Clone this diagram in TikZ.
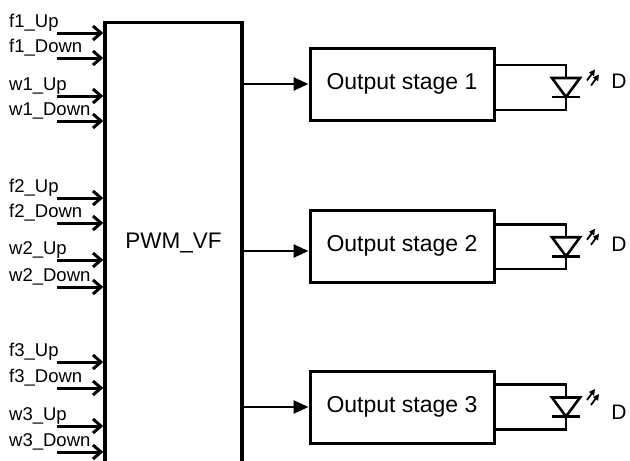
\documentclass[tikz,border=0pt]{standalone}
\usepackage{fontspec}
\setmainfont{Liberation Sans}
\usetikzlibrary{arrows.meta,calc}

\begin{document}
\begin{tikzpicture}
  [x=1pt,y=-1pt,
   block/.style={draw,line width=3pt,minimum width=184pt,minimum height=72pt,
     font=\fontsize{23}{27}\selectfont},
   inlabel/.style={anchor=base west,inner sep=0pt,font=\fontsize{18.5}{22}\selectfont},
   inwire/.style={line width=3pt,-{Straight Barb[length=8pt,width=14pt,line width=3pt]}},
   outwire/.style={line width=2.6pt,-{Triangle[length=15pt,width=13pt]}},
   wire/.style={line width=2.6pt},
   light/.style={line width=1.8pt,-{Triangle[length=6pt,width=6pt]}}]
  \useasboundingbox (0,0) rectangle (630,461);
  \clip (0,0) rectangle (630,461);

  \node[draw,line width=3.5pt,minimum width=137pt,minimum height=441pt,
    font=\fontsize{22.5}{27}\selectfont] (pwm) at (173.5,243) {PWM\_VF};

  \node[block] (s1) at (402,84)  {Output stage 1};
  \node[block] (s2) at (402,246) {Output stage 2};
  \node[block] (s3) at (402,407) {Output stage 3};

  % inputs
  \foreach \y/\name/\txt in {33/fau/f1\_Up, 58/fad/f1\_Down, 96/wau/w1\_Up, 121/wad/w1\_Down,
      198/fbu/f2\_Up, 223/fbd/f2\_Down, 260/wbu/w2\_Up, 287/wbd/w2\_Down,
      362/fcu/f3\_Up, 388/fcd/f3\_Down, 426/wcu/w3\_Up, 452/wcd/w3\_Down}
  {
    \node[inlabel] (\name) at (9,\y-5.5) {\txt};
    \coordinate (\name-in) at (57,\y);
    \draw[inwire] (\name-in) -- (pwm.west |- \name-in);
  }

  % outputs
  \draw[outwire] (pwm.east |- s1.west) -- (s1.west);
  \draw[outwire] ($(pwm.east |- s2.west)+(0,5)$) -- ($(s2.west)+(0,5)$);
  \draw[outwire] (pwm.east |- s3.west) -- (s3.west);

  % diodes
  \foreach \i/\ya/\yb/\yd in {1/65/110/81, 2/224.5/269/244, 3/384.5/429.5/412}
  {
    \coordinate (d\i) at (566,{(\ya+\yb)/2});
    \draw[wire] (s\i.east |- 0,\ya) -| ($(d\i)+(0,-9.5)$);
    \draw[wire] (s\i.east |- 0,\yb) -| ($(d\i)+(0,9.5)$);
    \draw[wire,line join=miter] ($(d\i)+(-14,-9.5)$) -- ++(28,0) -- ++(-14,19) -- cycle;
    \draw[wire] ($(d\i)+(-14,9.5)$) -- ++(28,0);
    \draw[light] ($(d\i)+(21,-7)$) -- ++(8,-11);
    \draw[light] ($(d\i)+(25,-2)$) -- ++(8,-11);
    \node[font=\fontsize{21}{24}\selectfont] (D\i) at (619,\yd) {D};
  }
\end{tikzpicture}
\end{document}
